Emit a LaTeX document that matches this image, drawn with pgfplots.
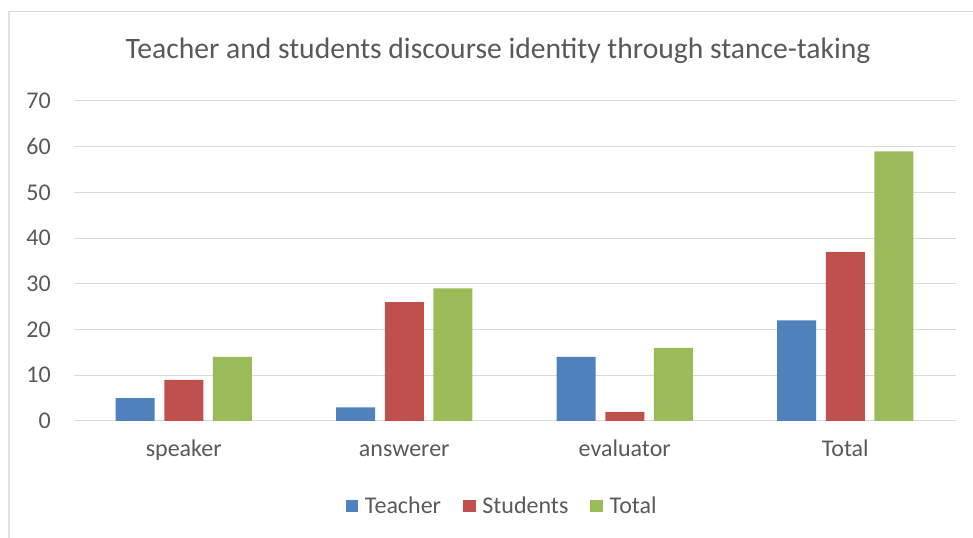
\documentclass[border=0pt]{standalone}
\usepackage{fontspec}
\setmainfont{Carlito}
\usepackage{pgfplots}
\pgfplotsset{compat=1.18}
\definecolor{xlblue}{HTML}{4F81BD}
\definecolor{xlred}{HTML}{C0504D}
\definecolor{xlgreen}{HTML}{9BBB59}
\definecolor{xltext}{HTML}{595959}
\definecolor{xlgrid}{HTML}{D9D9D9}
\begin{document}
\begin{tikzpicture}
\useasboundingbox (0,0) rectangle (729.75pt,403.5pt);
% chart frame (only left and top edges are visible)
\draw[xlgrid!80, line width=1.5pt] (6.75pt,0) -- (6.75pt,394.5pt);
\draw[xlgrid, line width=0.75pt] (6pt,394.5pt) -- (729.75pt,394.5pt);
\node[anchor=base, font=\fontsize{22.2}{26}\selectfont, text=xltext, inner sep=0pt]
  at (373.5pt,359.25pt) {Teacher and students discourse identity through stance-taking};
\begin{axis}[
    at={(55.125pt,87.75pt)}, anchor=south west,
    scale only axis,
    width=661.5pt, height=240pt,
    ybar, bar width=29.25pt,
    xmin=-0.5, xmax=3.5,
    ymin=0, ymax=70,
    xtick=data,
    xticklabels={speaker,answerer,evaluator,Total},
    ytick={0,10,...,70},
    major tick length=0pt,
    axis line style={draw=none},
    ymajorgrids=true,
    grid style={xlgrid, line width=0.75pt},
    tick label style={font=\fontsize{18}{21}\selectfont, text=xltext},
    /pgf/number format/assume math mode=true,
    yticklabel style={anchor=east, inner sep=0pt, xshift=-16.9pt},
    xticklabel style={anchor=base, inner sep=0pt, yshift=-27pt},
    legend columns=3,
    legend style={at={(rel axis cs:0.4864,0)}, anchor=center, yshift=-63.75pt,
        draw=none, fill=none, font=\fontsize{18}{21}\selectfont, text=xltext,
        /tikz/every even column/.append style={column sep=14.5pt},
        /tikz/every odd column/.append style={column sep=3pt}},
    legend image code/.code={\fill[#1] (0pt,-4.75pt) rectangle (9.5pt,4.75pt);},
]
\addplot[fill=xlblue, draw=none, bar shift=-36.4pt] coordinates {(0,5) (1,3) (2,14) (3,22)};
\addplot[fill=xlred, draw=none, bar shift=0pt] coordinates {(0,9) (1,26) (2,2) (3,37)};
\addplot[fill=xlgreen, draw=none, bar shift=36.4pt] coordinates {(0,14) (1,29) (2,16) (3,59)};
\legend{Teacher,Students,Total}
\end{axis}
\end{tikzpicture}
\end{document}
